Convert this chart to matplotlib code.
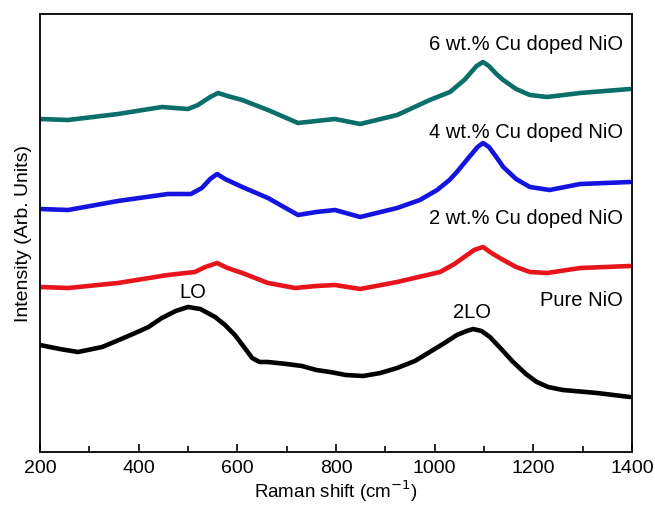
import matplotlib
matplotlib.use("Agg")
import matplotlib.pyplot as plt
from matplotlib.ticker import MultipleLocator

plt.rcParams['font.family'] = ['Liberation Sans', 'DejaVu Sans']

# Raman shift (cm^-1) and intensity (arb. units, offset stacked)
x_pure = [200, 240, 277, 326, 360, 393, 420, 447, 475, 500, 525, 555, 575, 595, 615, 630, 645, 662, 700, 731,
          760, 788, 820, 855, 890, 924, 960, 990, 1020, 1045, 1065, 1078, 1095, 1112, 1135, 1159, 1185, 1207,
          1230, 1260, 1329, 1396]
y_pure = [107, 103, 100, 105, 112, 119, 125, 134, 141, 145, 143, 135, 127, 117, 104, 94, 90, 90, 88, 86,
          82, 80, 77, 76, 79, 84, 91, 100, 109, 117, 121, 123, 121, 115, 103, 90, 78, 70,
          65, 62, 59, 55]

x_2cu = [200, 257, 358, 459, 514, 535, 559, 580, 610, 662, 717, 760, 798, 849, 924, 1011, 1040, 1057, 1080,
         1098, 1115, 1139, 1165, 1193, 1228, 1295, 1396]
y_2cu = [165, 164, 169, 177, 180, 185, 189, 184, 179, 169, 164, 166, 167, 163, 170, 180, 188, 194, 202,
         205, 199, 192, 185, 180, 179, 184, 186]

x_4cu = [200, 257, 358, 459, 506, 528, 545, 559, 575, 610, 662, 723, 760, 798, 849, 924, 970, 1005, 1030, 1045,
         1070, 1087, 1098, 1110, 1125, 1139, 1165, 1193, 1233, 1295, 1396]
y_4cu = [243, 242, 251, 258, 258, 264, 273, 278, 273, 265, 254, 237, 240, 242, 235, 244, 252, 262, 272, 280,
         295, 305, 309, 305, 295, 285, 273, 265, 262, 268, 270]

x_6cu = [200, 257, 358, 447, 500, 520, 545, 561, 580, 610, 662, 723, 760, 798, 849, 924, 990, 1031, 1060,
         1085, 1098, 1110, 1125, 1139, 1165, 1193, 1228, 1295, 1396]
y_6cu = [333, 332, 338, 345, 343, 347, 355, 359, 356, 352, 342, 329, 331, 333, 328, 337, 352, 360, 372,
         386, 390, 386, 378, 372, 363, 357, 355, 359, 363]

series = [
    (x_pure, y_pure, '#000000'),
    (x_2cu, y_2cu, '#e8141b'),
    (x_4cu, y_4cu, '#1414e0'),
    (x_6cu, y_6cu, '#0a6e6a'),
]

labels = ["Pure NiO", "2 wt.% Cu doped NiO", "4 wt.% Cu doped NiO", "6 wt.% Cu doped NiO"]
label_y = [152, 234, 320, 407]

fig = plt.figure(figsize=(6.55, 5.08), dpi=100)
ax = fig.add_axes([40/655, 1-452/508, (632-40)/655, (452-14)/508])

for xs, ys, c in series:
    ax.plot(xs, ys, color=c, lw=3.3, solid_joinstyle='round', solid_capstyle='round')

ax.set_xlim(200, 1400)
ax.set_ylim(0, 438)
ax.xaxis.set_major_locator(MultipleLocator(200))
ax.xaxis.set_minor_locator(MultipleLocator(100))
ax.tick_params(axis='x', which='major', direction='in', length=6, width=1.2, labelsize=14, pad=6, top=False)
ax.tick_params(axis='x', which='minor', direction='in', length=4, width=1.2, top=False)
ax.set_yticks([])
for s in ax.spines.values():
    s.set_linewidth(1.3)

ax.set_xlabel("Raman shift (cm$^{-1}$)", fontsize=13.5, labelpad=1)
ax.set_ylabel("Intensity (Arb. Units)", fontsize=14, labelpad=6)

for lab, ly in zip(labels, label_y):
    ax.text(1382, ly, lab, ha='right', va='center', fontsize=14.5)

ax.text(510, 159, "LO", ha='center', va='center', fontsize=14.5)
ax.text(1075, 140, "2LO", ha='center', va='center', fontsize=14.5)

fig.savefig("out.png", dpi=100)
